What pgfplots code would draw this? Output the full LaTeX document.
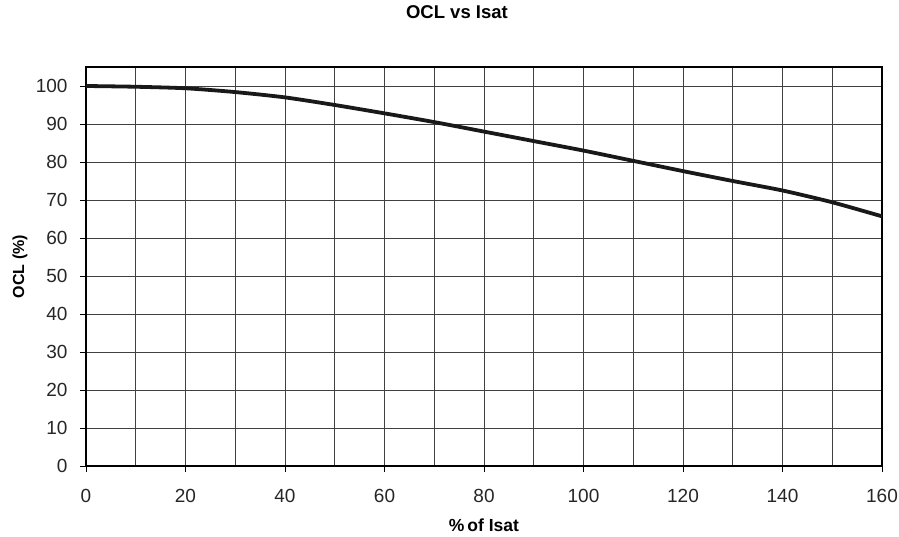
\documentclass[border=0pt]{standalone}
\usepackage{fontspec}
\setmainfont{Liberation Sans}
\usepackage{pgfplots}
\pgfplotsset{compat=1.18}
\begin{document}
\begin{tikzpicture}[x=1pt,y=1pt]
\useasboundingbox (-86,-71) rectangle (813,466);
\begin{axis}[
  at={(0,0)}, anchor=south west,
  width=796pt, height=399pt, scale only axis,
  xmin=0, xmax=160, ymin=0, ymax=105,
  xtick={0,20,...,160}, minor xtick={10,30,...,150},
  ytick={0,10,...,100},
  tick pos=left,
  grid=both,
  major grid style={draw=black!75, line width=0.9pt},
  minor grid style={draw=black!75, line width=0.9pt},
  axis line style={black, line width=1.1pt},
  tick align=outside,
  major tick length=6pt, minor tick length=0pt,
  tick style={black, line width=0.9pt},
  ticklabel style={font=\fontsize{19}{21}\selectfont, text=black!85},
  /pgf/number format/assume math mode=true,
  xticklabel style={anchor=center, yshift=-24pt},
  yticklabel style={anchor=east, xshift=-9pt},
  title={\textbf{OCL vs Isat}},
  title style={at={(rel axis cs:0.466,1.122)}, anchor=center, font=\fontsize{18.5}{20}\selectfont},
  xlabel={\textbf{\%\,of Isat}},
  xlabel style={at={(rel axis cs:0.5,0)}, anchor=center, yshift=-59pt, font=\fontsize{17.5}{20}\selectfont},
  ylabel={\textbf{OCL (\%)}},
  ylabel style={at={(rel axis cs:0,0.5)}, anchor=center, rotate=0, yshift=66pt, font=\fontsize{16}{18}\selectfont},
]
\addplot[black!90, line width=3.8pt, smooth, tension=0.4] coordinates {
(0,100.0) (10,99.8) (20,99.4) (30,98.4) (40,97.0) (50,95.0) (60,92.8) (70,90.5)
(80,88.0) (90,85.5) (100,83.0) (110,80.3) (120,77.6) (130,75.0) (140,72.5) (150,69.4) (160,65.7)
};
\end{axis}
\end{tikzpicture}
\end{document}
